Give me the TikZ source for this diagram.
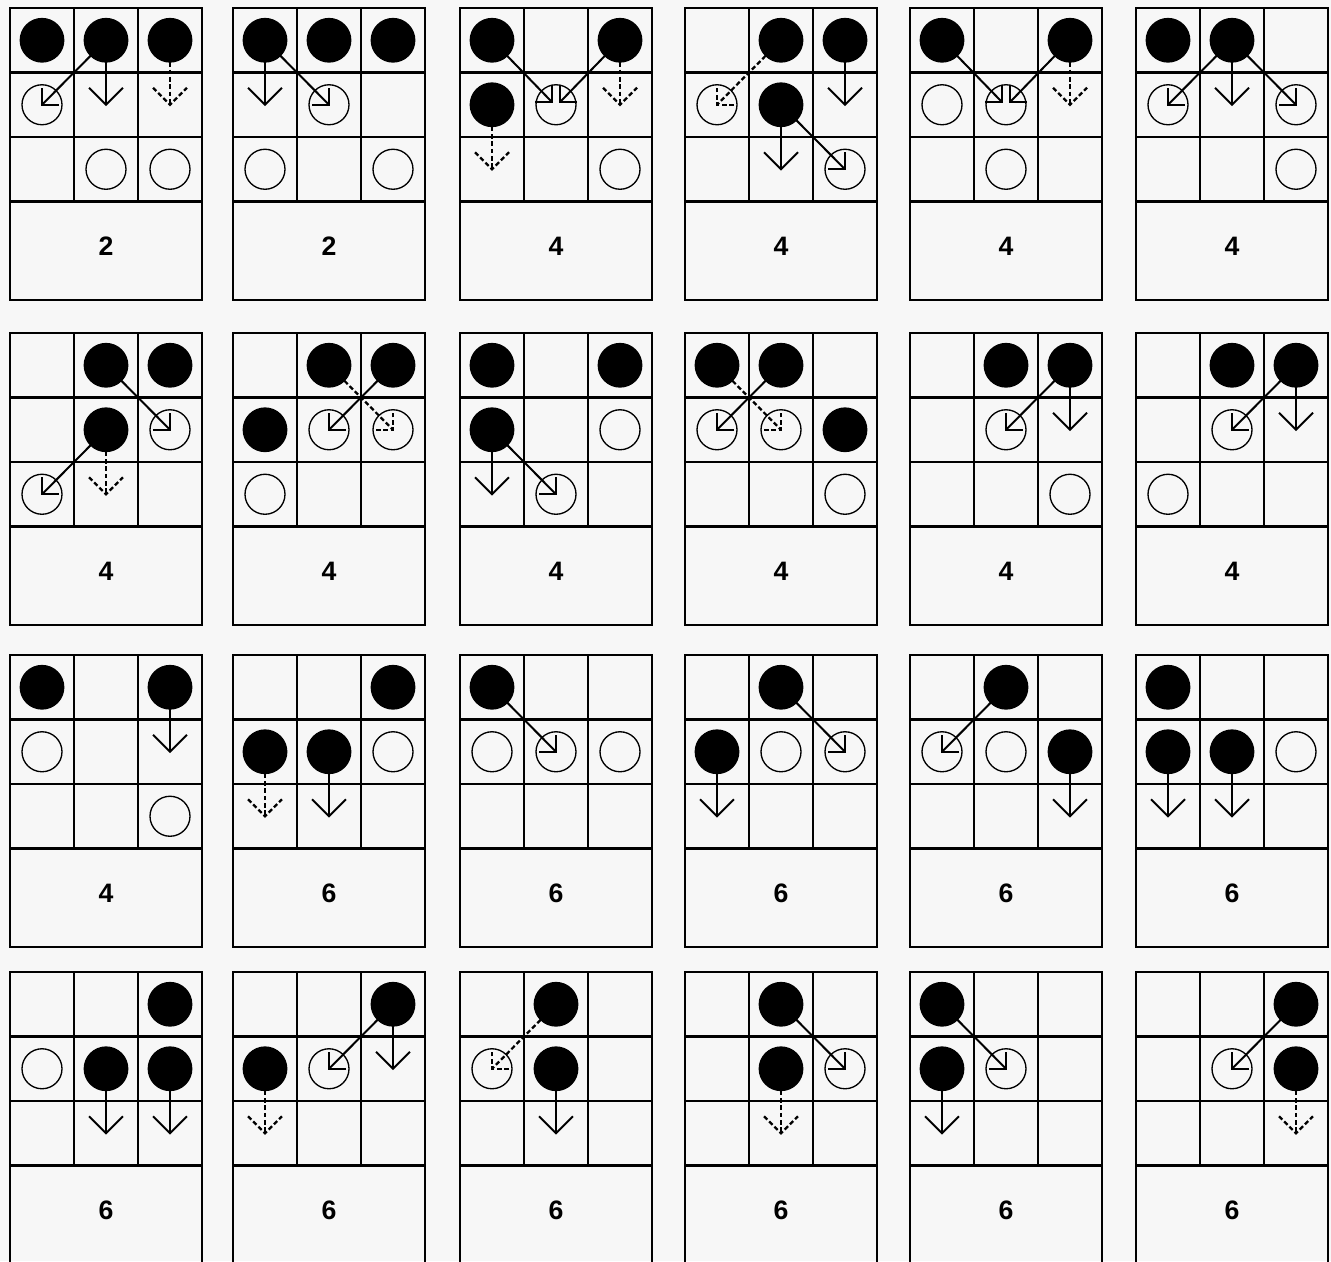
\documentclass[tikz,border=0pt]{standalone}
\usepackage{fontspec}
\setsansfont{Liberation Sans}
\tikzset{
  gridl/.style={line width=2.1pt, line cap=rect},
  shaft/.style={line width=1.5pt},
  dsh/.style={dash pattern=on 3.5pt off 2pt, line width=1.7pt},
  fillc/.style={fill=black},
  openc/.style={line width=1pt},
  lab/.style={font=\sffamily\bfseries\fontsize{20}{20}\selectfont, inner sep=0pt},
}
\newcommand{\Fc}[1]{\fill[fillc] (#1) circle (16.8pt);}
\newcommand{\Oc}[1]{\draw[openc] (#1) circle (15pt);}
\newcommand{\Dn}[3][]{\draw[shaft,#1] (#2) -- (#3);
  \draw[shaft,#1] (#3) ++(-17,-17) -- (#3) -- ++(17,-17);}
\newcommand{\Pie}[5][]{\draw[shaft,#1] (#2) -- (#3);
  \draw[shaft,#1] (#3) ++(#4*17,0) -- (#3) -- ++(0,#5*17);}
\newcommand{\panel}[4]{%
\begin{scope}[shift={(#1,#2)}]
  \coordinate (c11) at (32,32.25); \coordinate (c12) at (96,32.25); \coordinate (c13) at (160,32.25);
  \coordinate (c21) at (32,96.75); \coordinate (c22) at (96,96.75); \coordinate (c23) at (160,96.75);
  \coordinate (c31) at (32,161.25); \coordinate (c32) at (96,161.25); \coordinate (c33) at (160,161.25);
  \draw[gridl] (0,0) rectangle (192,292);
  \draw[gridl] (64,0) -- (64,193.5) (128,0) -- (128,193.5)
    (0,64.5) -- (192,64.5) (0,129) -- (192,129) (0,193.5) -- (192,193.5);
  #4
  \node[lab] (lab) at (96,238) {#3};
\end{scope}}
\begin{document}
\begin{tikzpicture}[x=0.75pt,y=-0.75pt]
\fill[black!3] (0,0) rectangle (1331,1261);
\useasboundingbox (0,0) rectangle (1331,1261);
% Row 1
\panel{10}{8}{2}{\Oc{c21}\Oc{c32}\Oc{c33}
  \Pie{c12}{c21}{1}{-1}\Dn{c12}{c22}\Dn[dsh]{c13}{c23}
  \Fc{c11}\Fc{c12}\Fc{c13}}
\panel{233}{8}{2}{\Oc{c22}\Oc{c31}\Oc{c33}
  \Dn{c11}{c21}\Pie{c11}{c22}{-1}{-1}
  \Fc{c11}\Fc{c12}\Fc{c13}}
\panel{460}{8}{4}{\Oc{c22}\Oc{c33}
  \Pie{c11}{[xshift=-3pt,yshift=2pt]c22}{-1}{-1}
  \Pie{c13}{[xshift=3pt,yshift=2pt]c22}{1}{-1}
  \Dn[dsh]{c13}{c23}\Dn[dsh]{c21}{c31}
  \Fc{c11}\Fc{c13}\Fc{c21}}
\panel{685}{8}{4}{\Oc{c21}\Oc{c33}
  \Pie[dsh]{c12}{c21}{1}{-1}\Dn{c13}{c23}\Dn{c22}{c32}\Pie{c22}{c33}{-1}{-1}
  \Fc{c12}\Fc{c13}\Fc{c22}}
\panel{910}{8}{4}{\Oc{c21}\Oc{c22}\Oc{c32}
  \Pie{c11}{[xshift=-3pt,yshift=2pt]c22}{-1}{-1}
  \Pie{c13}{[xshift=3pt,yshift=2pt]c22}{1}{-1}
  \Dn[dsh]{c13}{c23}
  \Fc{c11}\Fc{c13}}
\panel{1136}{8}{4}{\Oc{c21}\Oc{c23}\Oc{c33}
  \Pie{c12}{c21}{1}{-1}\Dn{c12}{c22}\Pie{c12}{c23}{-1}{-1}
  \Fc{c11}\Fc{c12}}
% Row 2
\panel{10}{333}{4}{\Oc{c23}\Oc{c31}
  \Pie{c12}{c23}{-1}{-1}\Pie{c22}{c31}{1}{-1}\Dn[dsh]{c22}{c32}
  \Fc{c12}\Fc{c13}\Fc{c22}}
\panel{233}{333}{4}{\Oc{c22}\Oc{c23}\Oc{c31}
  \Pie{c13}{c22}{1}{-1}\Pie[dsh]{c12}{c23}{-1}{-1}
  \Fc{c12}\Fc{c13}\Fc{c21}}
\panel{460}{333}{4}{\Oc{c23}\Oc{c32}
  \Dn{c21}{c31}\Pie{c21}{c32}{-1}{-1}
  \Fc{c11}\Fc{c13}\Fc{c21}}
\panel{685}{333}{4}{\Oc{c21}\Oc{c22}\Oc{c33}
  \Pie{c12}{c21}{1}{-1}\Pie[dsh]{c11}{c22}{-1}{-1}
  \Fc{c11}\Fc{c12}\Fc{c23}}
\panel{910}{333}{4}{\Oc{c22}\Oc{c33}
  \Pie{c13}{c22}{1}{-1}\Dn{c13}{c23}
  \Fc{c12}\Fc{c13}}
\panel{1136}{333}{4}{\Oc{c22}\Oc{c31}
  \Pie{c13}{c22}{1}{-1}\Dn{c13}{c23}
  \Fc{c12}\Fc{c13}}
% Row 3
\panel{10}{655}{4}{\Oc{c21}\Oc{c33}
  \Dn{c13}{c23}
  \Fc{c11}\Fc{c13}}
\panel{233}{655}{6}{\Oc{c23}
  \Dn[dsh]{c21}{c31}\Dn{c22}{c32}
  \Fc{c13}\Fc{c21}\Fc{c22}}
\panel{460}{655}{6}{\Oc{c21}\Oc{c22}\Oc{c23}
  \Pie{c11}{c22}{-1}{-1}
  \Fc{c11}}
\panel{685}{655}{6}{\Oc{c22}\Oc{c23}
  \Pie{c12}{c23}{-1}{-1}\Dn{c21}{c31}
  \Fc{c12}\Fc{c21}}
\panel{910}{655}{6}{\Oc{c21}\Oc{c22}
  \Pie{c12}{c21}{1}{-1}\Dn{c23}{c33}
  \Fc{c12}\Fc{c23}}
\panel{1136}{655}{6}{\Oc{c23}
  \Dn{c21}{c31}\Dn{c22}{c32}
  \Fc{c11}\Fc{c21}\Fc{c22}}
% Row 4
\panel{10}{972}{6}{\Oc{c21}
  \Dn{c22}{c32}\Dn{c23}{c33}
  \Fc{c13}\Fc{c22}\Fc{c23}}
\panel{233}{972}{6}{\Oc{c22}
  \Pie{c13}{c22}{1}{-1}\Dn{c13}{c23}\Dn[dsh]{c21}{c31}
  \Fc{c13}\Fc{c21}}
\panel{460}{972}{6}{\Oc{c21}
  \Pie[dsh]{c12}{c21}{1}{-1}\Dn{c22}{c32}
  \Fc{c12}\Fc{c22}}
\panel{685}{972}{6}{\Oc{c23}
  \Pie{c12}{c23}{-1}{-1}\Dn[dsh]{c22}{c32}
  \Fc{c12}\Fc{c22}}
\panel{910}{972}{6}{\Oc{c22}
  \Pie{c11}{c22}{-1}{-1}\Dn{c21}{c31}
  \Fc{c11}\Fc{c21}}
\panel{1136}{972}{6}{\Oc{c22}
  \Pie{c13}{c22}{1}{-1}\Dn[dsh]{c23}{c33}
  \Fc{c13}\Fc{c23}}
\end{tikzpicture}
\end{document}
